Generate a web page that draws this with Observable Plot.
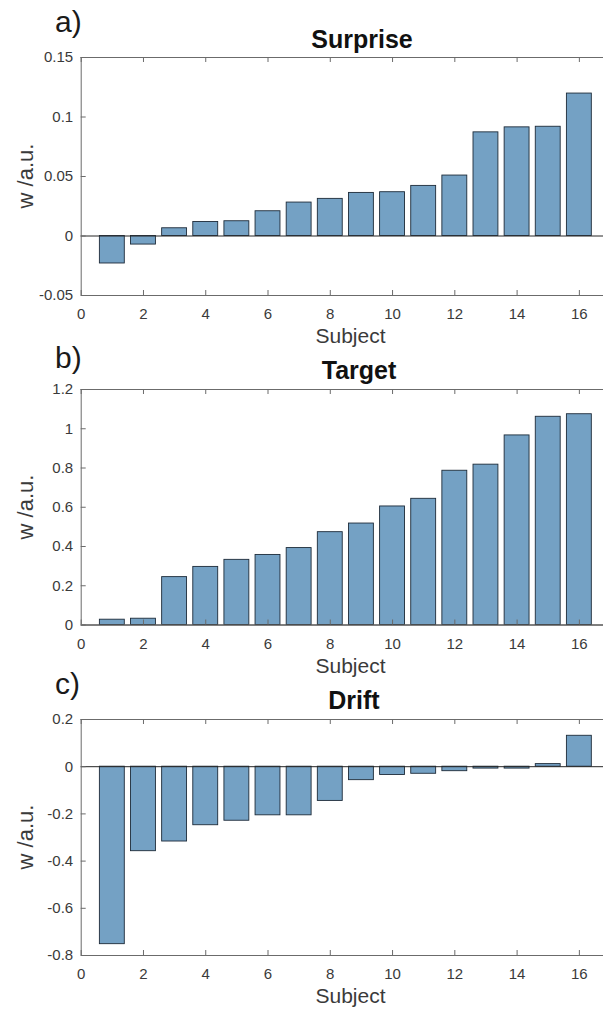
<!DOCTYPE html>
<html><head><meta charset="utf-8">
<script src="https://cdn.jsdelivr.net/npm/d3@7"></script>
<script src="https://cdn.jsdelivr.net/npm/@observablehq/plot@0.6"></script>
<style>
html,body{margin:0;padding:0;background:#fff;overflow:hidden;}
#wrap{position:relative;width:603px;height:1010px;overflow:hidden;font-family:"Liberation Sans",Arial,sans-serif;}
#wrap svg.panel{position:absolute;left:0;}
#overlay{position:absolute;left:0;top:0;}
</style></head><body><div id="wrap"></div>
<script>
// ---- data ----
const subjects = [1,2,3,4,5,6,7,8,9,10,11,12,13,14,15,16];
const surprise = [-0.0231,-0.0072,0.0065,0.0118,0.0124,0.0208,0.0281,0.0312,0.0362,0.0368,0.0421,0.0508,0.0871,0.0913,0.0918,0.1197];
const target   = [0.027,0.032,0.244,0.296,0.332,0.357,0.392,0.473,0.517,0.604,0.643,0.786,0.817,0.966,1.061,1.074];
const drift    = [-0.752,-0.358,-0.317,-0.248,-0.229,-0.206,-0.206,-0.145,-0.057,-0.035,-0.030,-0.019,-0.008,-0.008,0.011,0.131];
const xTicks = [0,2,4,6,8,10,12,14,16];
const xDomain = [0,17];
const yTicksSurprise = [-0.05,0,0.05,0.1,0.15];
const yTicksTarget = [0,0.2,0.4,0.6,0.8,1,1.2];
const yTicksDrift = [-0.8,-0.6,-0.4,-0.2,0,0.2];
const panelLetters = ["a)","b)","c)"];
const panelTitles = ["Surprise","Target","Drift"];
const xLabel = "Subject";
const yLabel = "w /a.u.";

// ---- layout ----
const W = 603, ML = 80.7, XR = 610;
const FONT = '"Liberation Sans", Arial, sans-serif';
const panels = [
  {values: surprise, ticks: yTicksSurprise, top: 0,   h: 350, mt: 57, mb: 55},
  {values: target,   ticks: yTicksTarget,   top: 350, h: 335, mt: 39, mb: 60.5},
  {values: drift,    ticks: yTicksDrift,    top: 685, h: 325, mt: 34, mb: 55}
];
const wrap = document.getElementById("wrap");
const axisGray = "#6b6b6b";

panels.forEach((p, i) => {
  const data = subjects.map((s, j) => ({s, w: p.values[j]}));
  const yDom = [p.ticks[0], p.ticks[p.ticks.length - 1]];
  const fh = p.h - p.mt - p.mb;
  const fw = W - ML;
  const chart = Plot.plot({
    width: W, height: p.h,
    marginTop: p.mt, marginBottom: p.mb, marginLeft: ML, marginRight: 0,
    style: {fontFamily: FONT, fontSize: "15px", color: "#3a3a3a", background: "transparent", overflow: "hidden"},
    x: {domain: xDomain, range: [ML, XR], label: null},
    y: {domain: yDom, label: null},
    marks: [
      Plot.rect(data, {x1: d => d.s - 0.4, x2: d => d.s + 0.4, y1: 0, y2: "w",
        fill: "#74a1c4", stroke: "#1d2b39", strokeWidth: 0.9}),
      Plot.ruleY([0], {stroke: "#262626", strokeWidth: 1}),
      Plot.ruleX([xDomain[0]], {stroke: axisGray, strokeWidth: 1}),
      Plot.ruleY(yDom, {stroke: axisGray, strokeWidth: 1}),
      Plot.tickX(xTicks, {x: d => d, stroke: axisGray, insetTop: fh - 5}),
      Plot.tickX(xTicks, {x: d => d, stroke: axisGray, insetBottom: fh - 5}),
      Plot.tickY(p.ticks, {y: d => d, stroke: axisGray, insetRight: fw - 5}),
      Plot.axisX(xTicks, {anchor: "bottom", tickSize: 0, tickPadding: 13, fontSize: 15, fill: "#3a3a3a", label: null}),
      Plot.axisY(p.ticks, {anchor: "left", tickSize: 0, tickPadding: 8, fontSize: 15, fill: "#3a3a3a", label: null, tickFormat: d => String(d)})
    ]
  });
  chart.classList.add("panel");
  chart.style.top = p.top + "px";
  wrap.appendChild(chart);
});

// ---- text overlay ----
const textSpec = [
  {letterY: 32, titleX: 362, titleY: 48,  xlabY: 343, ylabC: 176},
  {letterY: 368, titleX: 359, titleY: 379, xlabY: 673, ylabC: 507},
  {letterY: 694, titleX: 354, titleY: 709, xlabY: 1003, ylabC: 837}
];
const ov = d3.select(wrap).append("svg").attr("id", "overlay")
  .attr("width", W).attr("height", 1010).style("font-family", FONT);
textSpec.forEach((t, i) => {
  ov.append("text").attr("x", 55).attr("y", t.letterY).attr("font-size", 30)
    .attr("fill", "#1a1a1a").text(panelLetters[i]);
  ov.append("text").attr("x", t.titleX).attr("y", t.titleY).attr("font-size", 25)
    .attr("font-weight", "bold").attr("text-anchor", "middle").attr("fill", "#111").text(panelTitles[i]);
  ov.append("text").attr("x", 350.5).attr("y", t.xlabY).attr("font-size", 21)
    .attr("text-anchor", "middle").attr("fill", "#3a3a3a").text(xLabel);
  ov.append("text").attr("transform", `translate(33,${t.ylabC}) rotate(-90)`).attr("font-size", 22)
    .attr("text-anchor", "middle").attr("fill", "#3a3a3a").text(yLabel);
});
</script></body></html>
